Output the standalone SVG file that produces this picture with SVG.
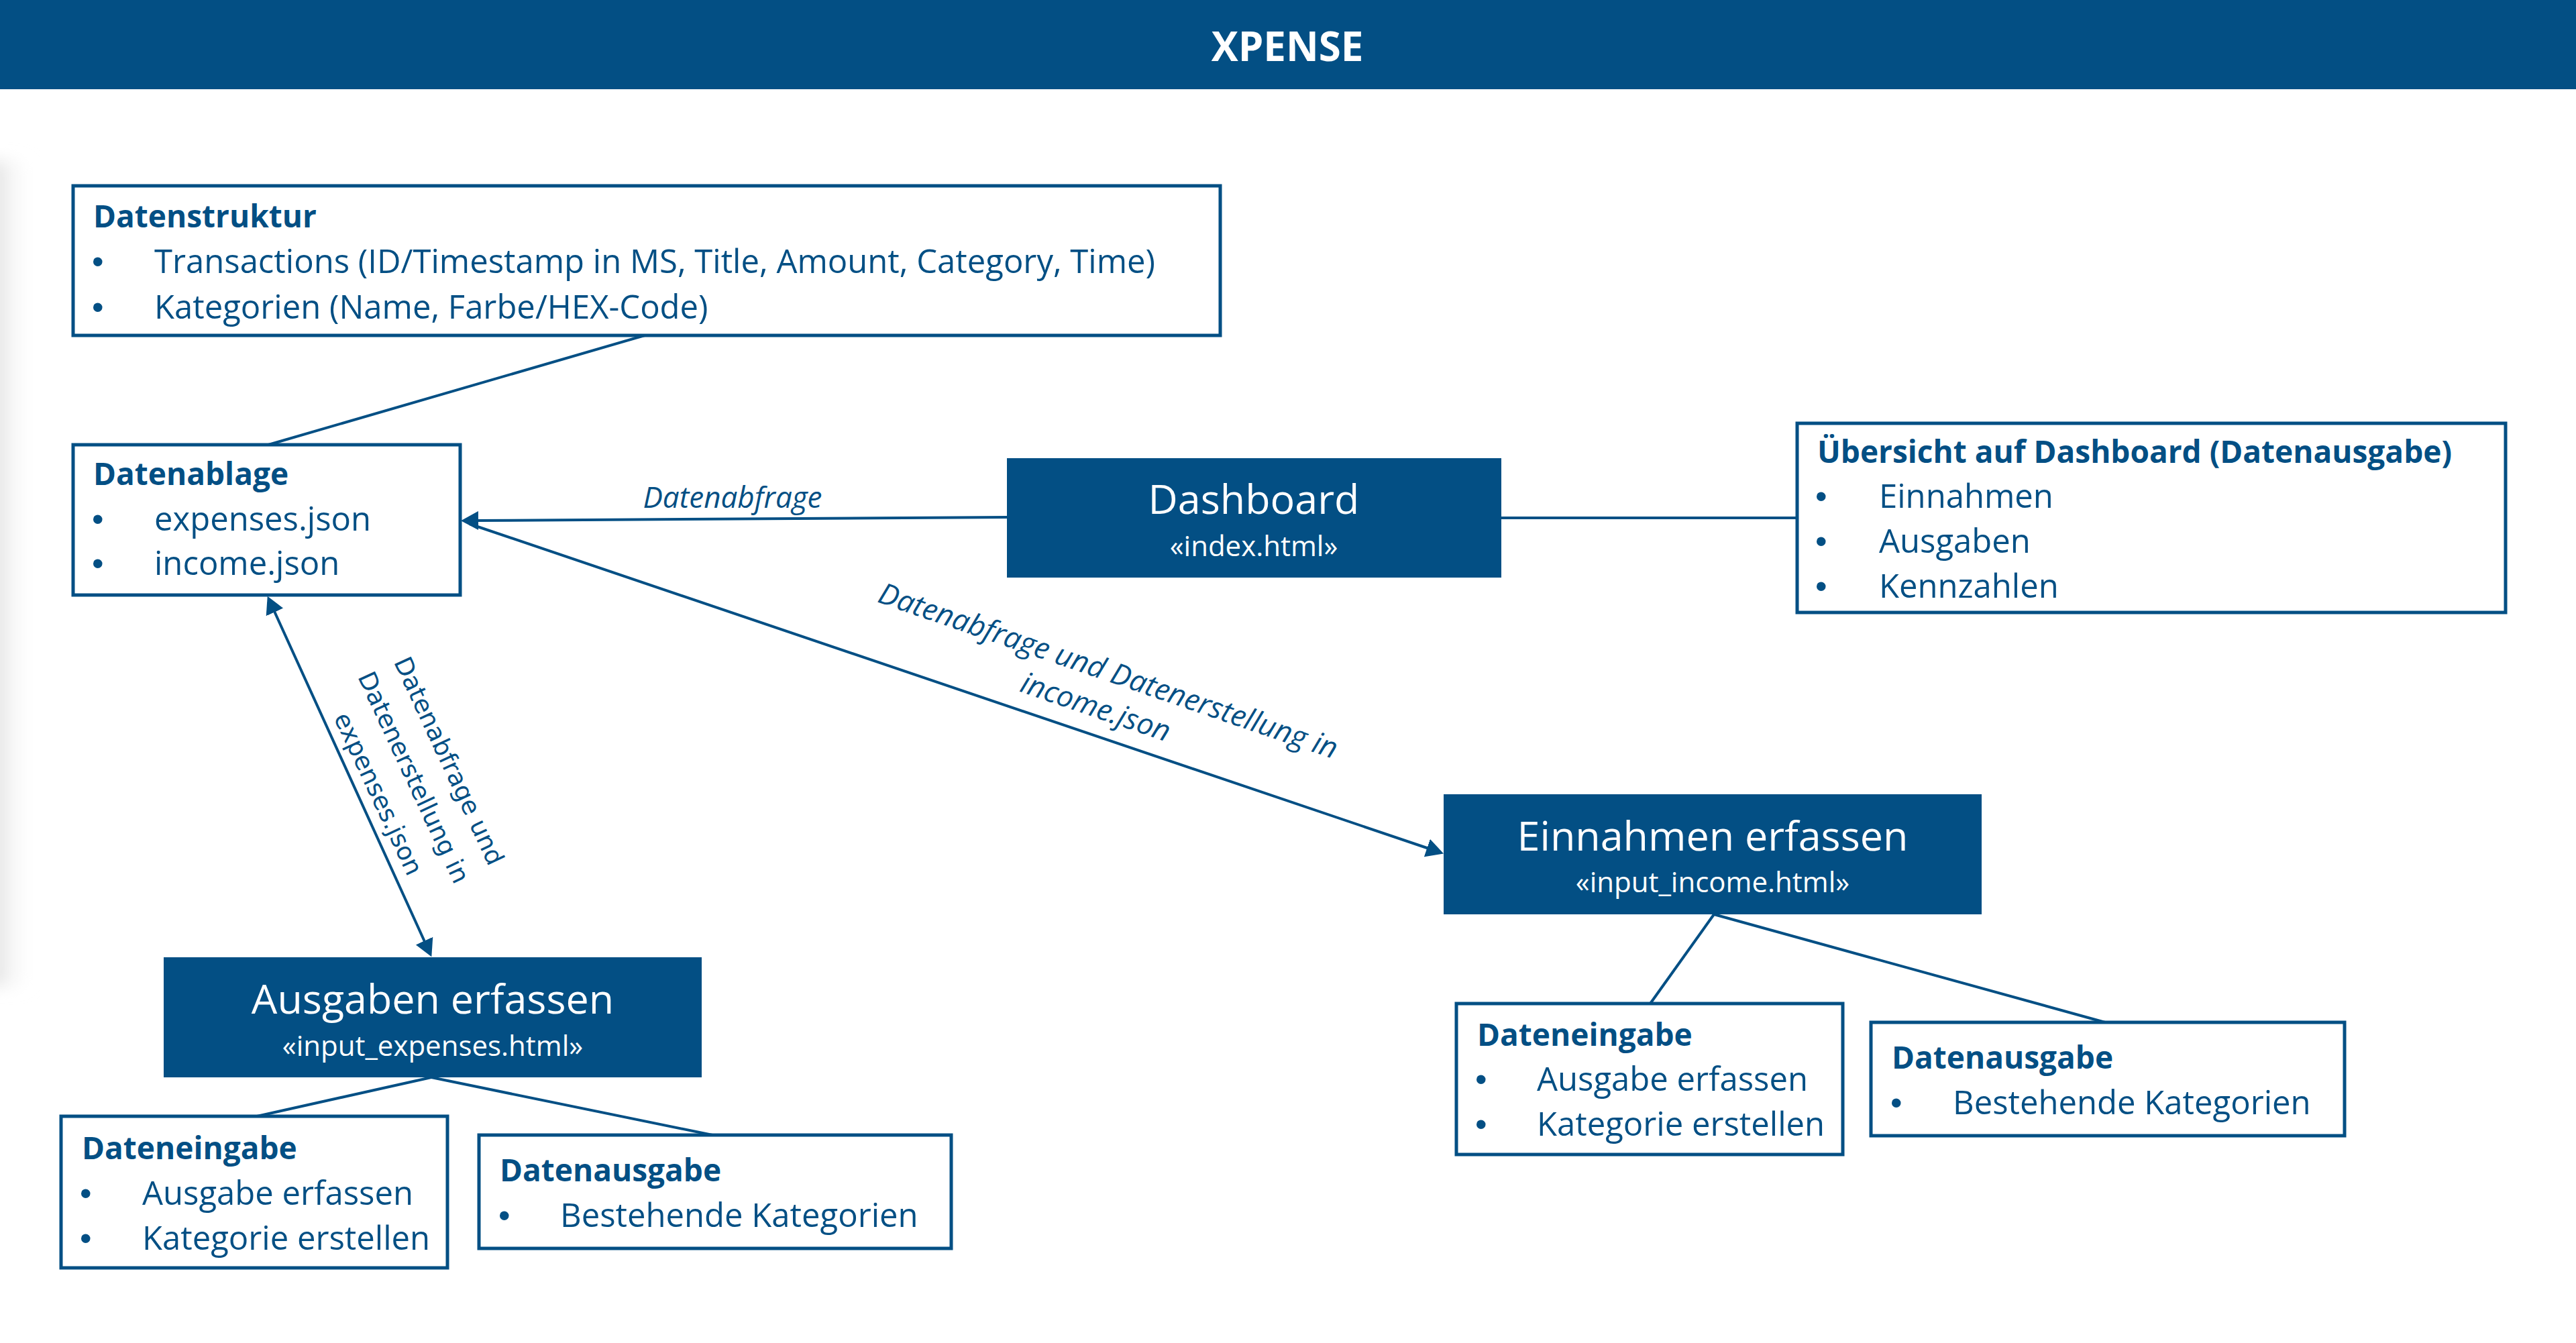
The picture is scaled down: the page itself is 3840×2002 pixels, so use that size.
<svg xmlns="http://www.w3.org/2000/svg" width="3840" height="2002" viewBox="0 0 3840 2002">
<defs>
<style>
.box{fill:#ffffff;stroke:#034f84;stroke-width:5}
.fill{fill:#034f84}
.ttl{font-family:"Open Sans","Liberation Sans",sans-serif;font-weight:700;font-size:46px;fill:#034f84}
.txt{font-family:"Open Sans","Liberation Sans",sans-serif;font-size:49px;fill:#034f84}
.bul{font-family:"Liberation Sans",sans-serif;font-size:50px;fill:#034f84}
.big{font-family:"Open Sans","Liberation Sans",sans-serif;font-size:61px;fill:#ffffff;text-anchor:middle}
.sub{font-family:"Open Sans","Liberation Sans",sans-serif;font-size:42px;fill:#ffffff;text-anchor:middle}
.lbl{font-family:"Open Sans","Liberation Sans",sans-serif;font-style:italic;font-size:44px;fill:#034f84;text-anchor:middle}
.lbl2{font-family:"DejaVu Sans",sans-serif;font-size:37px;fill:#034f84;text-anchor:middle}
.con{stroke:#034f84;stroke-width:4;fill:none}
</style>
<marker id="arr" viewBox="0 0 26 28" refX="6" refY="14" markerWidth="26" markerHeight="28" markerUnits="userSpaceOnUse" orient="auto-start-reverse">
<path d="M0,0 L26,14 L0,28 z" fill="#034f84"/>
</marker>
<linearGradient id="shade" x1="0" y1="0" x2="1" y2="0">
<stop offset="0" stop-color="#d6d6d6"/>
<stop offset="1" stop-color="#ffffff" stop-opacity="0"/>
</linearGradient>
<filter id="blur" x="-50%" y="-10%" width="200%" height="120%"><feGaussianBlur stdDeviation="12"/></filter>
</defs>
<rect x="0" y="0" width="3840" height="2002" fill="#ffffff"/>
<rect x="-20" y="240" width="70" height="1230" fill="url(#shade)" filter="url(#blur)"/>

<g id="header">
<rect x="0" y="0" width="3840" height="133" class="fill"/>
<text x="1919" y="91" font-family="Open Sans, Liberation Sans, sans-serif" font-weight="700" font-size="60" fill="#ffffff" text-anchor="middle">XPENSE</text>
</g>

<g id="connectors">
<line class="con" x1="961" y1="500" x2="400" y2="663"/>
<line class="con" x1="2238" y1="772" x2="2679" y2="772"/>
<line class="con" x1="1502" y1="771" x2="707" y2="776" marker-end="url(#arr)"/>
<line class="con" x1="700" y1="781" x2="2133" y2="1266" marker-end="url(#arr)"/>
<line class="con" x1="407" y1="907" x2="635" y2="1408" marker-start="url(#arr)" marker-end="url(#arr)"/>
<line class="con" x1="643" y1="1606" x2="383" y2="1664"/>
<line class="con" x1="643" y1="1606" x2="1062" y2="1692"/>
<line class="con" x1="2555" y1="1363" x2="2460" y2="1496"/>
<line class="con" x1="2555" y1="1363" x2="3138" y2="1524"/>
<text class="lbl" x="1092" y="757">Datenabfrage</text>
<g transform="translate(1651,1003) rotate(19)">
<text class="lbl" x="0" y="12">Datenabfrage und Datenerstellung in</text>
<text class="lbl" x="0" y="69">income.json</text>
</g>
<g transform="translate(616,1159) rotate(65)">
<text class="lbl2" x="0" y="-46">Datenabfrage und</text>
<text class="lbl2" x="0" y="12">Datenerstellung in</text>
<text class="lbl2" x="0" y="70">expenses.json</text>
</g>
</g>

<g id="datenstruktur">
<rect class="box" x="109" y="277" width="1710" height="223"/>
<text class="ttl" x="139" y="339">Datenstruktur</text>
<text class="bul" x="137" y="407">•</text>
<text class="txt" x="230" y="407">Transactions (ID/Timestamp in MS, Title, Amount, Category, Time)</text>
<text class="bul" x="137" y="475">•</text>
<text class="txt" x="230" y="475">Kategorien (Name, Farbe/HEX-Code)</text>
</g>

<g id="datenablage">
<rect class="box" x="109" y="663" width="577" height="224"/>
<text class="ttl" x="139" y="723">Datenablage</text>
<text class="bul" x="137" y="791">•</text>
<text class="txt" x="230" y="791">expenses.json</text>
<text class="bul" x="137" y="857">•</text>
<text class="txt" x="230" y="857">income.json</text>
</g>

<g id="dashboard">
<rect class="fill" x="1501" y="683" width="737" height="178"/>
<text class="big" x="1869" y="766">Dashboard</text>
<text class="sub" x="1869" y="829">«index.html»</text>
</g>

<g id="uebersicht">
<rect class="box" x="2679" y="631" width="1056" height="282"/>
<text class="ttl" x="2709" y="690">Übersicht auf Dashboard (Datenausgabe)</text>
<text class="bul" x="2706" y="757">•</text>
<text class="txt" x="2801" y="757">Einnahmen</text>
<text class="bul" x="2706" y="824">•</text>
<text class="txt" x="2801" y="824">Ausgaben</text>
<text class="bul" x="2706" y="891">•</text>
<text class="txt" x="2801" y="891">Kennzahlen</text>
</g>

<g id="einnahmen">
<rect class="fill" x="2152" y="1184" width="802" height="179"/>
<text class="big" x="2553" y="1268">Einnahmen erfassen</text>
<text class="sub" x="2553" y="1330">«input_income.html»</text>
</g>

<g id="ausgaben">
<rect class="fill" x="244" y="1427" width="802" height="179"/>
<text class="big" x="645" y="1511">Ausgaben erfassen</text>
<text class="sub" x="645" y="1574">«input_expenses.html»</text>
</g>

<g id="eingabe-ausgaben">
<rect class="box" x="91" y="1664" width="576" height="226"/>
<text class="ttl" x="122" y="1728">Dateneingabe</text>
<text class="bul" x="119" y="1796">•</text>
<text class="txt" x="212" y="1796">Ausgabe erfassen</text>
<text class="bul" x="119" y="1863">•</text>
<text class="txt" x="212" y="1863">Kategorie erstellen</text>
</g>

<g id="ausgabe-ausgaben">
<rect class="box" x="714" y="1692" width="704" height="169"/>
<text class="ttl" x="745" y="1761">Datenausgabe</text>
<text class="bul" x="743" y="1829">•</text>
<text class="txt" x="835" y="1829">Bestehende Kategorien</text>
</g>

<g id="eingabe-einnahmen">
<rect class="box" x="2171" y="1496" width="576" height="225"/>
<text class="ttl" x="2202" y="1559">Dateneingabe</text>
<text class="bul" x="2199" y="1626">•</text>
<text class="txt" x="2291" y="1626">Ausgabe erfassen</text>
<text class="bul" x="2199" y="1693">•</text>
<text class="txt" x="2291" y="1693">Kategorie erstellen</text>
</g>

<g id="ausgabe-einnahmen">
<rect class="box" x="2789" y="1524" width="706" height="169"/>
<text class="ttl" x="2820" y="1593">Datenausgabe</text>
<text class="bul" x="2818" y="1661">•</text>
<text class="txt" x="2911" y="1661">Bestehende Kategorien</text>
</g>
</svg>
